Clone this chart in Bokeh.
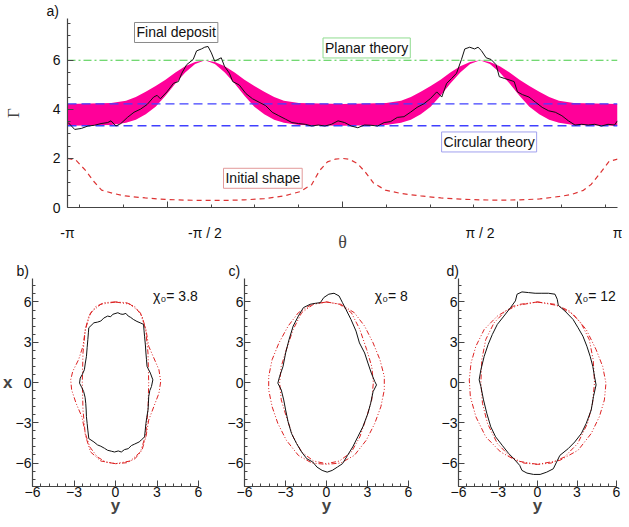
import math
from bokeh.plotting import figure
from bokeh.models import Range1d, FixedTicker, LinearAxis, Label
from bokeh.layouts import column, row
from bokeh.embed import file_html
from bokeh.resources import INLINE

PI = math.pi

# ---------------- panel a data ----------------
theta_label_ticks = [-PI, -PI / 2, PI / 2, PI]
theta_tick_labels = ["-π", "-π / 2", "π / 2", "π"]
gamma_ticks = [0, 2, 4, 6]
planar_level = 6.0
circular_levels = [4.22, 3.33]

band_theta = [-3.1416, -2.642, -2.473, -2.361, -2.248, -2.135, -2.022, -1.909, -1.797, -1.684,
              -1.571, -1.458, -1.345, -1.232, -1.120, -1.007, -0.894, -0.781, -0.669, -0.499,
              0.0, 0.499, 0.669, 0.781, 0.894, 1.007, 1.120, 1.232, 1.345, 1.458,
              1.571, 1.684, 1.797, 1.909, 2.022, 2.135, 2.248, 2.361, 2.473, 2.642, 3.1416]
band_upper = [4.22, 4.26, 4.35, 4.50, 4.72, 4.95, 5.20, 5.50, 5.75, 5.93,
              6.00, 5.93, 5.75, 5.50, 5.20, 4.95, 4.72, 4.50, 4.35, 4.26,
              4.22, 4.26, 4.35, 4.50, 4.72, 4.95, 5.20, 5.50, 5.75, 5.93,
              6.00, 5.93, 5.75, 5.50, 5.20, 4.95, 4.72, 4.50, 4.35, 4.26, 4.22]
band_lower = [3.33, 3.36, 3.45, 3.58, 3.80, 4.10, 4.55, 5.05, 5.50, 5.85,
              6.00, 5.85, 5.50, 5.05, 4.55, 4.10, 3.80, 3.58, 3.45, 3.36,
              3.33, 3.36, 3.45, 3.58, 3.80, 4.10, 4.55, 5.05, 5.50, 5.85,
              6.00, 5.85, 5.50, 5.05, 4.55, 4.10, 3.80, 3.58, 3.45, 3.36, 3.33]

deposit_theta = [-3.134, -3.059, -2.984, -2.908, -2.834, -2.758, -2.682, -2.645, -2.589, -2.532,
                 -2.457, -2.382, -2.306, -2.231, -2.157, -2.118, -2.081, -2.006, -1.931, -1.875,
                 -1.836, -1.780, -1.706, -1.667, -1.611, -1.574, -1.536, -1.498, -1.460, -1.424,
                 -1.385, -1.348, -1.292, -1.254, -1.179, -1.103, -1.028, -0.953, -0.878, -0.803,
                 -0.728, -0.652, -0.578, -0.502, -0.426, -0.352, -0.276, -0.201, -0.126, -0.051,
                 0.025, 0.099, 0.175, 0.250, 0.325, 0.400, 0.476, 0.550, 0.626, 0.702,
                 0.776, 0.852, 0.927, 1.002, 1.077, 1.134, 1.190, 1.247, 1.303, 1.359,
                 1.397, 1.453, 1.509, 1.548, 1.585, 1.641, 1.697, 1.754, 1.791, 1.848,
                 1.904, 1.961, 1.999, 2.055, 2.130, 2.205, 2.281, 2.355, 2.431, 2.506,
                 2.581, 2.656, 2.732, 2.807, 2.882, 2.958, 3.033, 3.108, 3.141]
deposit_gamma = [3.46, 3.18, 3.22, 3.32, 3.35, 3.42, 3.46, 3.53, 3.32, 3.42,
                 3.67, 3.88, 4.01, 4.20, 4.50, 4.57, 4.43, 4.71, 5.06, 5.13,
                 5.47, 5.82, 6.03, 6.38, 6.46, 6.53, 6.56, 6.30, 5.96, 6.03,
                 6.10, 5.75, 5.47, 5.13, 4.99, 4.64, 4.43, 4.29, 4.15, 3.88,
                 3.74, 3.60, 3.46, 3.42, 3.39, 3.32, 3.36, 3.32, 3.39, 3.53,
                 3.46, 3.32, 3.25, 3.36, 3.35, 3.32, 3.46, 3.50, 3.67, 3.70,
                 3.88, 4.08, 4.22, 4.43, 4.71, 4.50, 5.06, 5.26, 5.47, 6.03,
                 6.46, 6.53, 6.46, 6.53, 6.40, 6.10, 6.03, 5.82, 5.33, 5.26,
                 5.20, 5.13, 4.71, 4.60, 4.50, 4.29, 4.08, 3.94, 3.88, 3.74,
                 3.53, 3.36, 3.39, 3.36, 3.39, 3.32, 3.39, 3.36, 3.53]

initial_theta = [-3.1416, -3.046, -2.933, -2.843, -2.752, -2.616, -2.481, -2.254, -2.028, -1.802,
                 -1.575, -1.349, -1.123, -0.896, -0.670, -0.489, -0.353, -0.263, -0.172, -0.081,
                 0.0, 0.081, 0.172, 0.263, 0.353, 0.489, 0.670, 0.896, 1.123, 1.349,
                 1.575, 1.802, 2.028, 2.254, 2.481, 2.616, 2.752, 2.843, 2.933, 3.046, 3.1416]
initial_gamma = [2.00, 1.93, 1.50, 1.07, 0.71, 0.57, 0.47, 0.39, 0.33, 0.30,
                 0.29, 0.29, 0.31, 0.36, 0.47, 0.64, 0.93, 1.50, 1.86, 1.97,
                 2.00, 1.96, 1.79, 1.43, 1.00, 0.71, 0.57, 0.47, 0.39, 0.34,
                 0.31, 0.30, 0.31, 0.35, 0.45, 0.53, 0.70, 0.95, 1.35, 1.88, 1.97]

# ---------------- panels b, c, d data (y horizontal, x vertical) ----------------
b_black_y = [-1.93, -1.56, -1.30, -1.06, -0.85, -0.57, -0.35, -0.20, 0.17, 0.38, 0.54, 0.75, 0.92, 1.10,
             1.29, 1.55, 1.78, 2.03, 2.06, 2.10, 2.16, 2.20, 2.24, 2.28, 2.40, 2.52, 2.70, 2.60, 2.48,
             2.40, 2.38, 2.35, 2.26, 2.20, 2.15, 2.10, 1.90, 1.71, 1.36, 1.15, 0.92, 0.65, 0.42, 0.20,
             -0.07, -0.30, -0.57, -0.80, -1.06, -1.30, -1.56, -1.93, -2.00, -2.05, -2.10, -2.12, -2.15,
             -2.20, -2.30, -2.45, -2.60, -2.55, -2.40, -2.25, -2.18, -2.10, -2.05, -2.00, -1.96, -1.93]
b_black_x = [4.08, 4.45, 4.50, 4.58, 4.80, 4.95, 4.90, 5.08, 5.20, 5.10, 5.08, 5.15, 4.95, 4.85,
             4.70, 4.55, 4.45, 4.33, 3.90, 3.45, 2.80, 2.20, 1.70, 1.20, 0.95, 0.70, 0.20, -0.30, -0.60,
             -1.05, -1.55, -2.05, -2.60, -3.05, -3.55, -4.05, -4.25, -4.43, -4.60, -4.70, -4.93, -5.00,
             -5.18, -5.10, -5.18, -5.12, -5.05, -4.90, -4.75, -4.65, -4.43, -4.18, -3.55, -3.05, -2.55,
             -2.05, -1.55, -1.10, -0.68, -0.35, -0.05, 0.33, 0.60, 0.95, 1.45, 1.95, 2.60, 3.20, 3.70, 4.08]
b_redA_y = [0.0, -0.82, -1.44, -1.93, -2.18, -2.35, -2.67, -3.09, -3.24, -3.17, -2.85, -2.43, -2.18,
            -1.86, -1.31, -0.69, 0.0, 0.79, 1.41, 1.91, 2.20, 2.40, 2.77, 3.14, 3.27, 3.14, 2.77, 2.40,
            2.20, 1.91, 1.41, 0.79, 0.0]
b_redA_x = [6.0, 5.95, 5.65, 4.95, 3.95, 2.70, 1.70, 0.83, 0.20, -0.55, -1.55, -2.55, -3.80,
            -4.80, -5.55, -5.93, -6.05, -5.98, -5.68, -5.05, -4.05, -2.80, -1.80, -0.80, 0.08, 0.95,
            1.83, 2.70, 3.95, 4.95, 5.65, 5.95, 6.0]
b_redB_y = [0.0, -1.06, -1.80, -2.18, -2.35, -2.40, -2.35, -2.18, -1.80, -1.06, 0.0, 1.06, 1.80, 2.18,
            2.35, 2.40, 2.35, 2.18, 1.80, 1.06, 0.0]
b_redB_x = [6.0, 5.83, 5.20, 3.95, 2.20, 0.0, -2.05, -3.93, -5.18, -5.85, -6.05, -5.85, -5.18, -3.93,
            -2.05, 0.0, 2.20, 3.95, 5.20, 5.83, 6.0]

c_black_y = [-0.45, -0.20, 0.17, 0.55, 0.92, 1.17, 1.42, 1.79, 2.16, 2.41, 2.79, 3.03, 3.28, 3.53, 3.66,
             3.41, 3.23, 3.03, 2.66, 2.29, 1.92, 1.54, 1.17, 0.80, 0.42, 0.05, -0.32, -0.70, -1.00, -1.44,
             -1.82, -2.19, -2.56, -2.81, -2.99, -3.13, -3.31, -3.56, -3.43, -3.18, -2.99, -2.74, -2.44,
             -2.06, -1.69, -1.19, -0.82, -0.45]
c_black_x = [5.95, 6.33, 6.58, 6.65, 6.45, 5.95, 5.45, 4.70, 3.83, 2.95, 2.20, 1.45, 0.70, 0.08, -0.18,
             -0.68, -1.55, -2.30, -3.30, -4.05, -4.80, -5.43, -6.05, -6.30, -6.55, -6.68, -6.55, -6.30,
             -5.93, -5.68, -5.18, -4.55, -3.80, -2.93, -2.05, -1.30, -0.55, -0.05, 0.45, 1.20, 2.20,
             3.20, 4.20, 4.95, 5.58, 5.83, 5.90, 5.95]
c_redA_y = [0.0, 1.04, 2.04, 2.79, 3.41, 3.91, 4.23, 4.23, 3.98, 3.53, 2.91, 2.04, 1.04, 0.0, -1.07,
            -2.06, -2.94, -3.56, -3.98, -4.23, -4.23, -3.98, -3.48, -2.81, -2.06, -1.07, 0.0]
c_redA_x = [6.0, 5.83, 5.20, 4.20, 2.95, 1.70, 0.45, -0.55, -1.80, -3.05, -4.30, -5.43, -6.0, -6.1,
            -6.0, -5.43, -4.30, -3.05, -1.80, -0.55, 0.45, 1.70, 2.95, 4.20, 5.20, 5.83, 6.0]
c_redB_y = [0.0, -0.95, -1.82, -2.44, -2.94, -3.31, -3.43, -3.31, -2.94, -2.44, -1.82, -0.95, 0.0,
            0.95, 1.82, 2.44, 2.94, 3.31, 3.43, 3.31, 2.94, 2.44, 1.82, 0.95, 0.0]
c_redB_x = [6.0, 5.83, 5.20, 3.95, 2.45, 1.20, 0.0, -1.30, -2.55, -4.05, -5.18, -5.85, -6.05,
            -5.85, -5.18, -4.05, -2.55, -1.30, 0.0, 1.20, 2.45, 3.95, 5.20, 5.83, 6.0]

d_black_y = [-1.68, -1.55, -1.18, -0.68, -0.18, 0.33, 0.83, 1.33, 1.50, 1.58, 2.08, 2.70, 3.08, 3.45,
             3.75, 4.00, 4.20, 4.33, 4.45, 4.25, 4.08, 3.70, 3.33, 2.83, 2.33, 1.70, 1.45, 1.20, 0.70,
             0.20, -0.30, -0.80, -1.18, -1.35, -1.80, -2.18, -2.68, -3.18, -3.55, -3.85, -4.10, -4.30,
             -4.43, -4.30, -4.05, -3.75, -3.43, -3.05, -2.55, -2.05, -1.68]
d_black_x = [6.08, 6.58, 6.75, 6.70, 6.65, 6.65, 6.65, 6.58, 6.20, 5.75, 5.33, 4.70, 4.08, 3.45,
             2.70, 1.95, 1.20, 0.45, -0.18, -1.05, -2.05, -3.05, -3.80, -4.43, -4.93, -5.43, -5.93,
             -6.43, -6.68, -6.85, -6.85, -6.75, -6.55, -6.18, -5.68, -5.30, -4.68, -4.05, -3.30, -2.30,
             -1.30, -0.30, 0.20, 0.95, 1.95, 2.83, 3.58, 4.33, 4.95, 5.58, 6.08]
d_redA_y = [0.0, 1.45, 2.70, 3.70, 4.45, 4.95, 5.20, 5.08, 4.70, 4.08, 3.08, 1.70, 0.0, -1.55, -2.80,
            -3.93, -4.68, -5.10, -5.18, -5.05, -4.68, -4.05, -3.05, -1.80, 0.0]
d_redA_x = [6.0, 5.75, 5.08, 3.95, 2.45, 1.20, -0.05, -1.30, -2.55, -3.80, -5.05, -5.80, -6.10,
            -5.85, -5.18, -4.05, -2.55, -1.05, 0.20, 1.45, 2.70, 3.95, 4.95, 5.70, 6.0]
d_redB_y = [0.0, -1.30, -2.43, -3.30, -3.93, -4.23, -4.30, -4.18, -3.80, -3.05, -2.05, -1.05, 0.0,
            1.05, 2.05, 3.05, 3.80, 4.18, 4.33, 4.23, 3.93, 3.30, 2.43, 1.30, 0.0]
d_redB_x = [6.0, 5.83, 5.33, 4.45, 3.20, 1.70, 0.0, -1.55, -3.05, -4.55, -5.55, -6.00, -6.10,
            -6.00, -5.55, -4.55, -3.05, -1.55, 0.0, 1.70, 3.20, 4.45, 5.33, 5.83, 6.0]

panel_ticks = [-6, -3, 0, 3, 6]
panel_minor = [-7.2, -6.6, -6.0, -5.4, -4.8, -4.2, -3.6, -3.0, -2.4, -1.8, -1.2, -0.6, 0.0,
               0.6, 1.2, 1.8, 2.4, 3.0, 3.6, 4.2, 4.8, 5.4, 6.0, 6.6, 7.2]
chi_labels = ["χ₀= 3.8", "χ₀= 8", "χ₀= 12"]
panel_letters = ["b)", "c)", "d)"]

SANS = "Liberation Sans"
SERIF = "Liberation Serif"
AXIS_COL = "#444444"


def style_axis(ax, size="14px"):
    ax.axis_line_color = AXIS_COL
    ax.axis_line_width = 1.2
    ax.major_tick_line_color = AXIS_COL
    ax.minor_tick_line_color = AXIS_COL
    ax.major_tick_in = 6
    ax.major_tick_out = 0
    ax.minor_tick_in = 3
    ax.minor_tick_out = 0
    ax.major_label_text_font = SANS
    ax.major_label_text_font_size = size
    ax.major_label_text_color = "#111111"


def style_title(t, text, offset):
    t.text = text
    t.align = "left"
    t.offset = offset
    t.standoff = 0
    t.text_font = SANS
    t.text_font_size = "14px"
    t.text_font_style = "normal"
    t.text_color = "#111111"


# ---------------- top figure ----------------
top = figure(width=622, height=254, x_range=Range1d(-PI, PI), y_range=Range1d(0, 7.7),
             output_backend="svg", toolbar_location=None,
             min_border_left=54, min_border_right=5, min_border_top=15, min_border_bottom=44)
top.outline_line_color = None
top.grid.visible = False
style_title(top.title, "a)", -21)

top.varea(x=band_theta, y1=band_lower, y2=band_upper, fill_color="#ff0099", fill_alpha=1.0)
top.line(x=[-PI, PI], y=[planar_level, planar_level], line_color="#44cc44", line_width=1.2,
         line_dash="8 3 2 3")
for lv in circular_levels:
    top.line(x=[-PI, PI], y=[lv, lv], line_color="#4040ff", line_width=1.3, line_dash="9 5")
top.line(x=initial_theta, y=initial_gamma, line_color="#dd3333", line_width=1.2, line_dash="5 4")
top.line(x=deposit_theta, y=deposit_gamma, line_color="#111111", line_width=1.0)

xa = top.xaxis[0]
xa.ticker = FixedTicker(ticks=[-2, 0, 2], minor_ticks=[-3, -2.5, -2, -1.5, -1, -0.5, 0, 0.5, 1, 1.5, 2, 2.5, 3])
style_axis(xa)
xa.major_label_overrides = {-2: "", 0: "", 2: ""}
xa.major_label_standoff = 0
xa.major_label_text_font_size = "2px"

xa2 = LinearAxis(ticker=FixedTicker(ticks=theta_label_ticks),
                 major_label_overrides={t: s for t, s in zip(theta_label_ticks, theta_tick_labels)})
style_axis(xa2)
xa2.axis_line_color = None
xa2.major_tick_line_color = None
xa2.minor_tick_line_color = None
xa2.major_label_standoff = 17
xa2.axis_label = "θ"
xa2.axis_label_text_font = SERIF
xa2.axis_label_text_font_style = "normal"
xa2.axis_label_text_font_size = "18px"
xa2.axis_label_standoff = -12
top.add_layout(xa2, "below")

ya = top.yaxis[0]
ya.ticker = FixedTicker(ticks=gamma_ticks, minor_ticks=[0, 0.5, 1, 1.5, 2, 2.5, 3, 3.5, 4, 4.5, 5, 5.5, 6, 6.5, 7, 7.5])
style_axis(ya)
ya.major_label_standoff = 7
ya.axis_label = "Γ"
ya.axis_label_text_font = SERIF
ya.axis_label_text_font_style = "normal"
ya.axis_label_text_font_size = "17px"
ya.axis_label_standoff = 27


def boxed(x, y, text, border):
    return Label(x=x, y=y, text=text, text_align="center", text_baseline="middle",
                 text_font=SANS, text_font_size="14px", text_color="#111111",
                 background_fill_color="white", border_line_color=border, border_line_width=1,
                 padding=2)


top.add_layout(boxed(-1.90, 7.13, "Final deposit", "#8a8a8a"))
top.add_layout(boxed(0.276, 6.5, "Planar theory", "#8fdc8f"))
top.add_layout(boxed(1.675, 2.67, "Circular theory", "#a0a0ee"))
top.add_layout(boxed(-0.91, 1.19, "Initial shape", "#e29a9a"))


# ---------------- bottom figures ----------------
def panel(width, bl, br, black, redA, redB, chi, letter, letter_offset, show_x_label):
    p = figure(width=width, height=263, x_range=Range1d(-6, 6), y_range=Range1d(-7.75, 7.75),
               output_backend="svg", toolbar_location=None,
               min_border_left=bl, min_border_right=br, min_border_top=24, min_border_bottom=30)
    p.outline_line_color = None
    p.grid.visible = False
    style_title(p.title, letter, letter_offset)
    p.line(x=redA[0], y=redA[1], line_color="#dd2222", line_width=1.0, line_dash="5 2 1 2 1 2")
    p.line(x=redB[0], y=redB[1], line_color="#dd2222", line_width=1.0, line_dash="5 2 1 2 1 2")
    p.line(x=black[0], y=black[1], line_color="#111111", line_width=1.0)
    for ax in (p.xaxis[0], p.yaxis[0]):
        ax.ticker = FixedTicker(ticks=panel_ticks, minor_ticks=panel_minor)
        style_axis(ax, "14px")
    p.yaxis[0].major_label_standoff = 1
    p.xaxis[0].major_label_standoff = 0
    p.xaxis[0].axis_label = "y"
    p.xaxis[0].axis_label_text_font = SANS
    p.xaxis[0].axis_label_text_font_style = "bold"
    p.xaxis[0].axis_label_text_font_size = "17px"
    p.xaxis[0].axis_label_standoff = -4
    if show_x_label:
        p.yaxis[0].axis_label = "x"
        p.yaxis[0].axis_label_orientation = "horizontal"
        p.yaxis[0].axis_label_text_font = SANS
        p.yaxis[0].axis_label_text_font_style = "bold"
        p.yaxis[0].axis_label_text_font_size = "17px"
        p.yaxis[0].axis_label_standoff = 0
    p.add_layout(Label(x=5.95, y=6.45, text=chi, text_align="right", text_baseline="middle",
                       text_font=SANS, text_font_size="14px", text_color="#111111"))
    return p


pb = panel(219, 26, 21, (b_black_y, b_black_x), (b_redA_y, b_redA_x), (b_redB_y, b_redB_x),
           chi_labels[0], panel_letters[0], -16, True)
pc = panel(214, 25, 25, (c_black_y, c_black_x), (c_redA_y, c_redA_x), (c_redB_y, c_redB_x),
           chi_labels[1], panel_letters[1], -16, False)
pd_ = panel(189, 25, 6, (d_black_y, d_black_x), (d_redA_y, d_redA_x), (d_redB_y, d_redB_x),
            chi_labels[2], panel_letters[2], -12, False)

layout = column(top, row(pb, pc, pd_))
open("out.html", "w").write(file_html(layout, INLINE))
